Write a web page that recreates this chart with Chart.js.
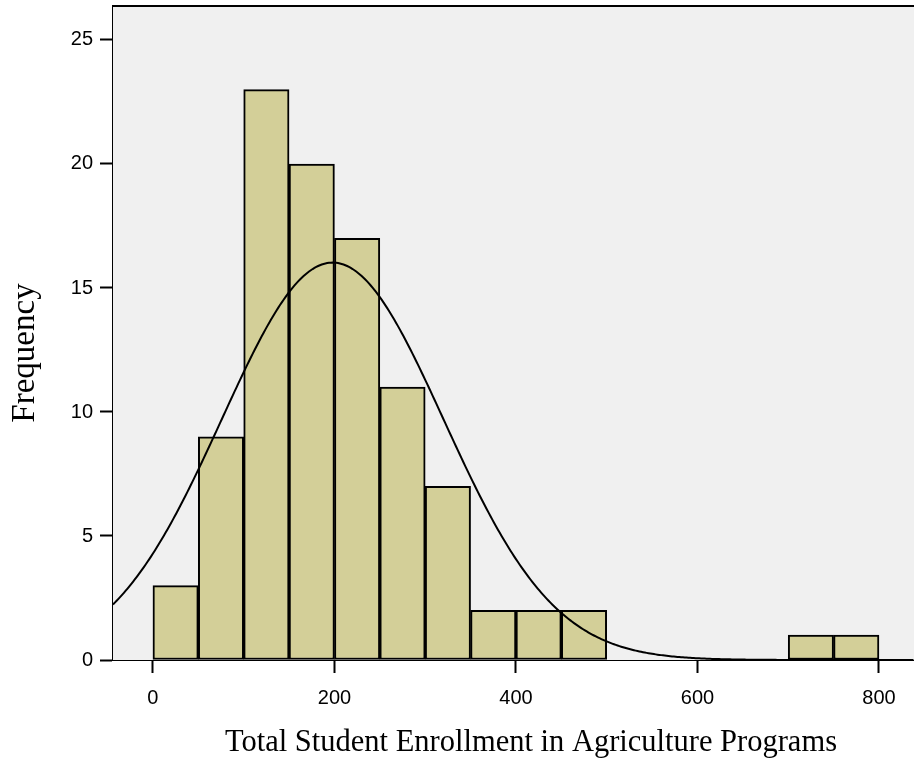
<!DOCTYPE html>
<html>
<head>
<meta charset="utf-8">
<title>Total Student Enrollment in Agriculture Programs</title>
<script src="https://cdn.jsdelivr.net/npm/chart.js@4/dist/chart.umd.min.js"></script>
<style>
  html, body { margin: 0; padding: 0; background: #ffffff; }
  canvas { display: block; }
</style>
</head>
<body>
<canvas id="hist" width="914" height="763"></canvas>
<script>
// Histogram bins (lower edge, width 50) and their frequencies
const binStarts = [0, 50, 100, 150, 200, 250, 300, 350, 400, 450, 700, 750];
const binWidth = 50;
const frequencies = [3, 9, 23, 20, 17, 11, 7, 2, 2, 2, 1, 1];

// Axis ticks
const xTicks = [0, 200, 400, 600, 800];
const yTicks = [0, 5, 10, 15, 20, 25];

// Axis titles
const xTitle = 'Total Student Enrollment in Agriculture Programs';
const yTitle = 'Frequency';

// Fitted normal curve parameters
const curveMean = 198;
const curveSd = 122;

// Visible range of the axes
const xRange = [-44, 838.6];
const yRange = [0, 26.37];

const totalCount = frequencies.reduce((a, b) => a + b, 0);

const barPoints = binStarts.map((s, i) => ({ x: s + binWidth / 2, y: frequencies[i] }));

// Normal density scaled to counts per bin
function normalCount(x) {
  const z = (x - curveMean) / curveSd;
  return totalCount * binWidth / (curveSd * Math.sqrt(2 * Math.PI)) * Math.exp(-0.5 * z * z);
}
const curvePoints = [];
for (let x = xRange[0]; x <= xRange[1]; x += 2) {
  curvePoints.push({ x: x, y: normalCount(x) });
}

// Grey plot background, top frame line and the two axis titles
const plotFrame = {
  id: 'plotFrame',
  beforeDatasetsDraw(chart) {
    const { ctx, chartArea: a } = chart;
    ctx.save();
    ctx.fillStyle = '#f0f0f0';
    ctx.fillRect(a.left, a.top, a.right - a.left, a.bottom - a.top);
    ctx.restore();
  },
  afterDraw(chart) {
    const { ctx, chartArea: a } = chart;
    ctx.save();
    ctx.strokeStyle = '#000000';
    ctx.lineWidth = 2;
    ctx.beginPath();
    ctx.moveTo(a.left - 1, a.top);
    ctx.lineTo(a.right, a.top);
    ctx.stroke();

    ctx.fillStyle = '#000000';
    ctx.textAlign = 'center';
    ctx.textBaseline = 'middle';
    ctx.font = '30.5px "Liberation Serif", "Times New Roman", serif';
    ctx.fillText(xTitle, a.left + 418, a.bottom + 83);

    ctx.translate(25, a.top + 347);
    ctx.rotate(-Math.PI / 2);
    ctx.font = '33px "Liberation Serif", "Times New Roman", serif';
    ctx.fillText(yTitle, 0, 0);
    ctx.restore();
  }
};

function noEdgePadding(s) {
  s.paddingTop = 0;
  s.paddingBottom = 0;
  s.paddingLeft = 0;
  s.paddingRight = 0;
}

new Chart(document.getElementById('hist'), {
  type: 'bar',
  data: {
    datasets: [
      {
        type: 'line',
        data: curvePoints,
        borderColor: '#000000',
        borderWidth: 2,
        pointRadius: 0,
        tension: 0,
        fill: false,
        order: 0
      },
      {
        type: 'bar',
        data: barPoints,
        backgroundColor: '#d3cf98',
        borderColor: '#000000',
        borderWidth: 2,
        borderSkipped: false,
        barPercentage: 1,
        categoryPercentage: 1,
        order: 1
      }
    ]
  },
  options: {
    responsive: false,
    animation: false,
    events: [],
    layout: { padding: { top: 6, right: 0, left: 0, bottom: 0 } },
    plugins: {
      legend: { display: false },
      tooltip: { enabled: false }
    },
    scales: {
      x: {
        type: 'linear',
        offset: false,
        min: xRange[0],
        max: xRange[1],
        afterBuildTicks: s => { s.ticks = xTicks.map(v => ({ value: v })); },
        afterFit: s => { s.height = 103; noEdgePadding(s); },
        grid: {
          display: true,
          offset: false,
          drawOnChartArea: false,
          drawTicks: true,
          tickLength: 13,
          tickWidth: 2,
          tickColor: '#000000'
        },
        border: { display: true, color: '#000000', width: 2 },
        ticks: {
          color: '#000000',
          font: { family: 'Liberation Sans, Arial, sans-serif', size: 20 },
          padding: 13,
          maxRotation: 0,
          autoSkip: false
        },
        title: { display: false }
      },
      y: {
        type: 'linear',
        min: yRange[0],
        max: yRange[1],
        afterBuildTicks: s => { s.ticks = yTicks.map(v => ({ value: v })); },
        afterFit: s => { s.width = 113; noEdgePadding(s); },
        grid: {
          display: true,
          drawOnChartArea: false,
          drawTicks: true,
          tickLength: 13,
          tickWidth: 2,
          tickColor: '#000000'
        },
        border: { display: true, color: '#000000', width: 2 },
        ticks: {
          color: '#000000',
          font: { family: 'Liberation Sans, Arial, sans-serif', size: 20 },
          padding: 7
        },
        title: { display: false }
      }
    }
  },
  plugins: [plotFrame]
});
</script>
</body>
</html>
